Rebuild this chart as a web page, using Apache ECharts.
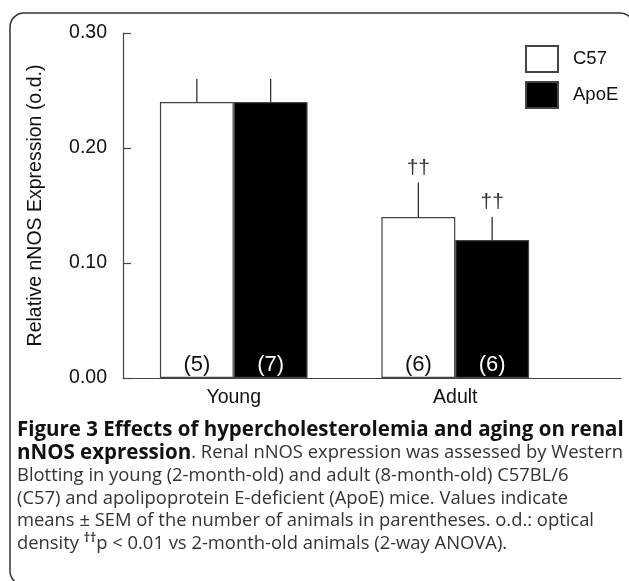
<!DOCTYPE html>
<html lang="en">
<head>
    <meta charset="UTF-8">
    <title>Figure 3 nNOS</title>
    <script src="https://cdn.jsdelivr.net/npm/echarts@6/dist/echarts.min.js"></script>
    <style>
        html, body { margin: 0; padding: 0; background: #fff; }
    </style>
</head>
<body>

<div id="main" style="width: 629px;height:581px;"></div>

<script type="text/javascript">
    // data
    var groups = ['Young', 'Adult'];
    var seriesNames = ['C57', 'ApoE'];
    var c57Mean = [0.24, 0.14];
    var apoeMean = [0.24, 0.12];
    var c57Sem = [0.02, 0.03];
    var apoeSem = [0.02, 0.02];
    var c57N = [5, 6];
    var apoeN = [7, 6];
    var c57Sig = ['', '††'];
    var apoeSig = ['', '††'];
    var yTicks = [0, 0.1, 0.2, 0.3];

    var captionLines = [
        '{b|Figure 3 Effects of hypercholesterolemia and aging on renal}',
        '{b|nNOS expression}{n|. Renal nNOS expression was assessed by Western}',
        '{n|Blotting in young (2-month-old) and adult (8-month-old) C57BL/6}',
        '{n|(C57) and apolipoprotein E-deficient (ApoE) mice. Values indicate}',
        '{n|means ± SEM of the number of animals in parentheses. o.d.: optical}',
        '{n|density }{sup|††}{n|p < 0.01 vs 2-month-old animals (2-way ANOVA).}'
    ];

    var chartFont = 'Liberation Sans';
    var capFont = 'Open Sans';

    // error bar items: [group, mean, sem, seriesIdx]
    var errItems = [];
    var errSig = [];
    groups.forEach(function (g, i) {
        errItems.push([i, c57Mean[i], c57Sem[i], 0]);
        errSig.push(c57Sig[i]);
        errItems.push([i, apoeMean[i], apoeSem[i], 1]);
        errSig.push(apoeSig[i]);
    });

    var myChart = echarts.init(document.getElementById('main'));

    myChart.setOption({
        animation: false,
        title: {
            left: 17,
            top: 419,
            padding: 0,
            text: captionLines.join('\n'),
            textStyle: {
                rich: {
                    b: { fontFamily: capFont, fontWeight: 'bold', fontSize: 20.5, color: '#111', lineHeight: 22.7 },
                    n: { fontFamily: capFont, fontWeight: 'normal', fontSize: 18.4, color: '#333', lineHeight: 22.7 },
                    sup: { fontFamily: capFont, fontSize: 12, color: '#333', lineHeight: 22.7, verticalAlign: 'top', padding: [0, 0, 6, 0] }
                }
            }
        },
        legend: {
            orient: 'vertical',
            left: 520,
            top: 40,
            itemWidth: 32,
            itemHeight: 26,
            itemGap: 8,
            icon: 'rect',
            data: seriesNames,
            textStyle: { fontFamily: chartFont, fontSize: 18.5, color: '#111', padding: [0, 0, 0, 10] }
        },
        graphic: [{
            type: 'rect',
            silent: true,
            shape: { x: 10, y: 13, width: 624, height: 572, r: 14 },
            style: { fill: 'none', stroke: '#333', lineWidth: 1.5 }
        }],
        grid: [{
            left: 123, top: 33, width: 443, height: 345
        }, {
            left: 123, top: 33, right: 8, height: 345
        }],
        xAxis: [{
            type: 'category',
            gridIndex: 0,
            data: groups,
            axisLine: { show: false },
            axisTick: { show: false },
            axisLabel: { fontFamily: chartFont, fontSize: 19.5, color: '#111', margin: 10 }
        }, {
            type: 'value',
            gridIndex: 1,
            min: 0,
            max: 1,
            axisLine: { show: true, lineStyle: { color: '#444', width: 1.2 } },
            axisTick: { show: false },
            axisLabel: { show: false },
            splitLine: { show: false }
        }],
        yAxis: [{
            type: 'value',
            gridIndex: 0,
            min: yTicks[0],
            max: yTicks[yTicks.length - 1],
            interval: 0.1,
            name: 'Relative nNOS Expression (o.d.)',
            nameLocation: 'middle',
            nameRotate: 90,
            nameGap: 77,
            nameTextStyle: { fontFamily: chartFont, fontSize: 19.5, color: '#111' },
            axisLine: { show: true, lineStyle: { color: '#444', width: 1.2 } },
            axisTick: { show: true, inside: true, length: 8, lineStyle: { color: '#444', width: 1.2 } },
            axisLabel: {
                fontFamily: chartFont, fontSize: 19.5, color: '#111', margin: 16,
                formatter: function (v) { return v.toFixed(2); }
            },
            splitLine: { show: false }
        }, {
            type: 'value',
            gridIndex: 1,
            show: false
        }],
        series: [{
            name: seriesNames[0],
            type: 'bar',
            xAxisIndex: 0,
            yAxisIndex: 0,
            barWidth: '33.33%',
            barGap: '0%',
            itemStyle: { color: '#fff', borderColor: '#444', borderWidth: 1.2 },
            label: {
                show: true,
                position: 'insideBottom',
                distance: 2,
                fontFamily: chartFont,
                fontSize: 22,
                color: '#111',
                formatter: function (p) { return '(' + c57N[p.dataIndex] + ')'; }
            },
            data: c57Mean
        }, {
            name: seriesNames[1],
            type: 'bar',
            xAxisIndex: 0,
            yAxisIndex: 0,
            barWidth: '33.33%',
            barGap: '0%',
            itemStyle: { color: '#000', borderColor: '#444', borderWidth: 1.2 },
            label: {
                show: true,
                position: 'insideBottom',
                distance: 2,
                fontFamily: chartFont,
                fontSize: 22,
                color: '#fff',
                formatter: function (p) { return '(' + apoeN[p.dataIndex] + ')'; }
            },
            data: apoeMean
        }, {
            // error bars (upper half only) + significance daggers
            type: 'custom',
            xAxisIndex: 0,
            yAxisIndex: 0,
            z: 5,
            encode: { x: 0, y: 1 },
            renderItem: function (params, api) {
                var band = api.size([1, 0])[0];
                var off = (api.value(3) === 0 ? -1 : 1) * band / 6;
                var base = api.coord([api.value(0), api.value(1)]);
                var top = api.coord([api.value(0), api.value(1) + api.value(2)]);
                var x = base[0] + off;
                var kids = [{
                    type: 'line',
                    shape: { x1: x, y1: base[1], x2: x, y2: top[1] },
                    style: { stroke: '#222', lineWidth: 1.2 }
                }];
                var sig = errSig[params.dataIndex];
                if (sig) {
                    kids.push({
                        type: 'text',
                        style: {
                            text: sig,
                            x: x,
                            y: top[1] - 4,
                            fill: '#333',
                            font: '21px ' + chartFont,
                            textAlign: 'center',
                            textVerticalAlign: 'bottom'
                        }
                    });
                }
                return { type: 'group', children: kids };
            },
            data: errItems
        }]
    });
</script>

</body>
</html>
